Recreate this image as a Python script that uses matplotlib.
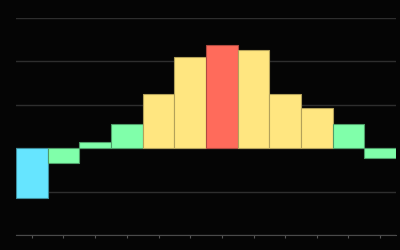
import numpy as np
import matplotlib
matplotlib.use("Agg")
import matplotlib.pyplot as plt

# bar values, left to right
values = [-11.6, -3.5, 1.3, 5.5, 12.3, 20.9, 23.7, 22.5, 12.4, 9.3, 5.5, -2.4]
positions = np.arange(len(values))

def pick(v):
    if v == max(values):
        return "#ff6b5b", "#b04a40"
    if v > 8:
        return "#ffe680", "#b3a15a"
    if v < -8:
        return "#66e5ff", "#3f8e9e"
    return "#80ffaa", "#4f9e69"

fig = plt.figure(figsize=(4, 2.5), dpi=100, facecolor="#050505")
ax = fig.add_axes([0.04, 0.06, 0.95, 0.87], facecolor="#050505")

for x, v in zip(positions, values):
    fc, ec = pick(v)
    ax.bar(x, v, width=1.0, color=fc, edgecolor=ec, linewidth=0.8, zorder=3)

ax.set_xlim(-0.5, 11.5)
ax.set_ylim(-20, 30)
ax.set_yticks([-20, -10, 0, 10, 20, 30])
ax.grid(axis="y", color="#2e2e2e", linewidth=1.0, zorder=0)
ax.set_xticks(positions)
ax.tick_params(axis="x", length=2, color="#555555", labelbottom=False)
ax.tick_params(axis="y", length=0, labelleft=False)
for s in ["top", "left", "right"]:
    ax.spines[s].set_visible(False)
ax.spines["bottom"].set_color("#4a4a4a")

fig.savefig("out.png", facecolor=fig.get_facecolor())
